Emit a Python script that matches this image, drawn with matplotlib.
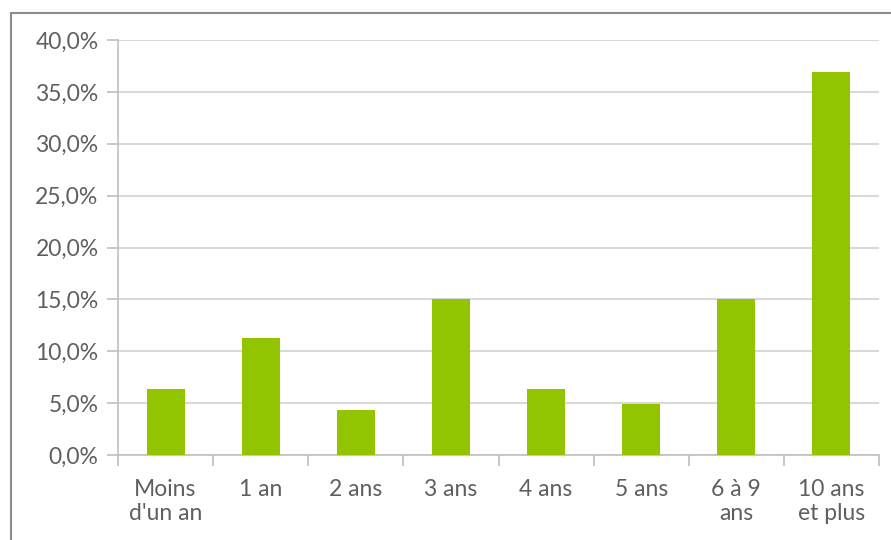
import matplotlib
matplotlib.use("Agg")
import matplotlib.pyplot as plt
from matplotlib.patches import Rectangle
from matplotlib.ticker import FuncFormatter, MultipleLocator, FixedLocator

# ancienneté - share of respondents
categories = ["Moins\nd'un an", "1 an", "2 ans", "3 ans", "4 ans", "5 ans", "6 à 9\nans", "10 ans\net plus"]
shares = [6.4, 11.3, 4.3, 15.0, 6.4, 4.9, 15.0, 36.9]

bar_color = "#93C400"
text_color = "#5F5F5F"
grid_color = "#D9D9D9"
axis_color = "#BFBFBF"

plt.rcParams['font.family'] = ['Lato', 'DejaVu Sans']

fig = plt.figure(figsize=(8.91, 5.40), dpi=100)
ax = fig.add_axes([118 / 891, 1 - 455 / 540, (879 - 118) / 891, (455 - 40) / 540])

x = list(range(len(categories)))
ax.bar(x, shares, width=0.4, color=bar_color, zorder=3)

ax.set_xlim(-0.5, len(categories) - 0.5)
ax.set_ylim(0, 40)
ax.yaxis.set_major_locator(MultipleLocator(5))
ax.yaxis.set_major_formatter(FuncFormatter(lambda v, p: f"{v:.1f}%".replace(".", ",")))
ax.grid(axis='y', color=grid_color, linewidth=1.5, zorder=0)

ax.set_xticks(x)
ax.set_xticklabels(categories, linespacing=1.2)
ax.xaxis.set_minor_locator(FixedLocator([i - 0.5 for i in range(len(categories) + 1)]))
ax.tick_params(axis='x', which='major', length=0, pad=17, labelsize=16.5, labelcolor=text_color)
ax.tick_params(axis='x', which='minor', length=8, width=1.2, color=axis_color, direction='out')
ax.tick_params(axis='y', length=8, width=1.2, color=axis_color, labelsize=16.5, labelcolor=text_color, pad=6)

for s in ['top', 'right']:
    ax.spines[s].set_visible(False)
for s in ['left', 'bottom']:
    ax.spines[s].set_color(axis_color)
    ax.spines[s].set_linewidth(1.2)

# outer chart frame, cut off at the right and bottom
fig.patches.append(Rectangle((11 / 891, -0.1), 1.2, 1.1 - 13 / 540, transform=fig.transFigure,
                             fill=False, edgecolor="#8C8C8C", linewidth=1.5))

fig.savefig("out.png", dpi=100)
